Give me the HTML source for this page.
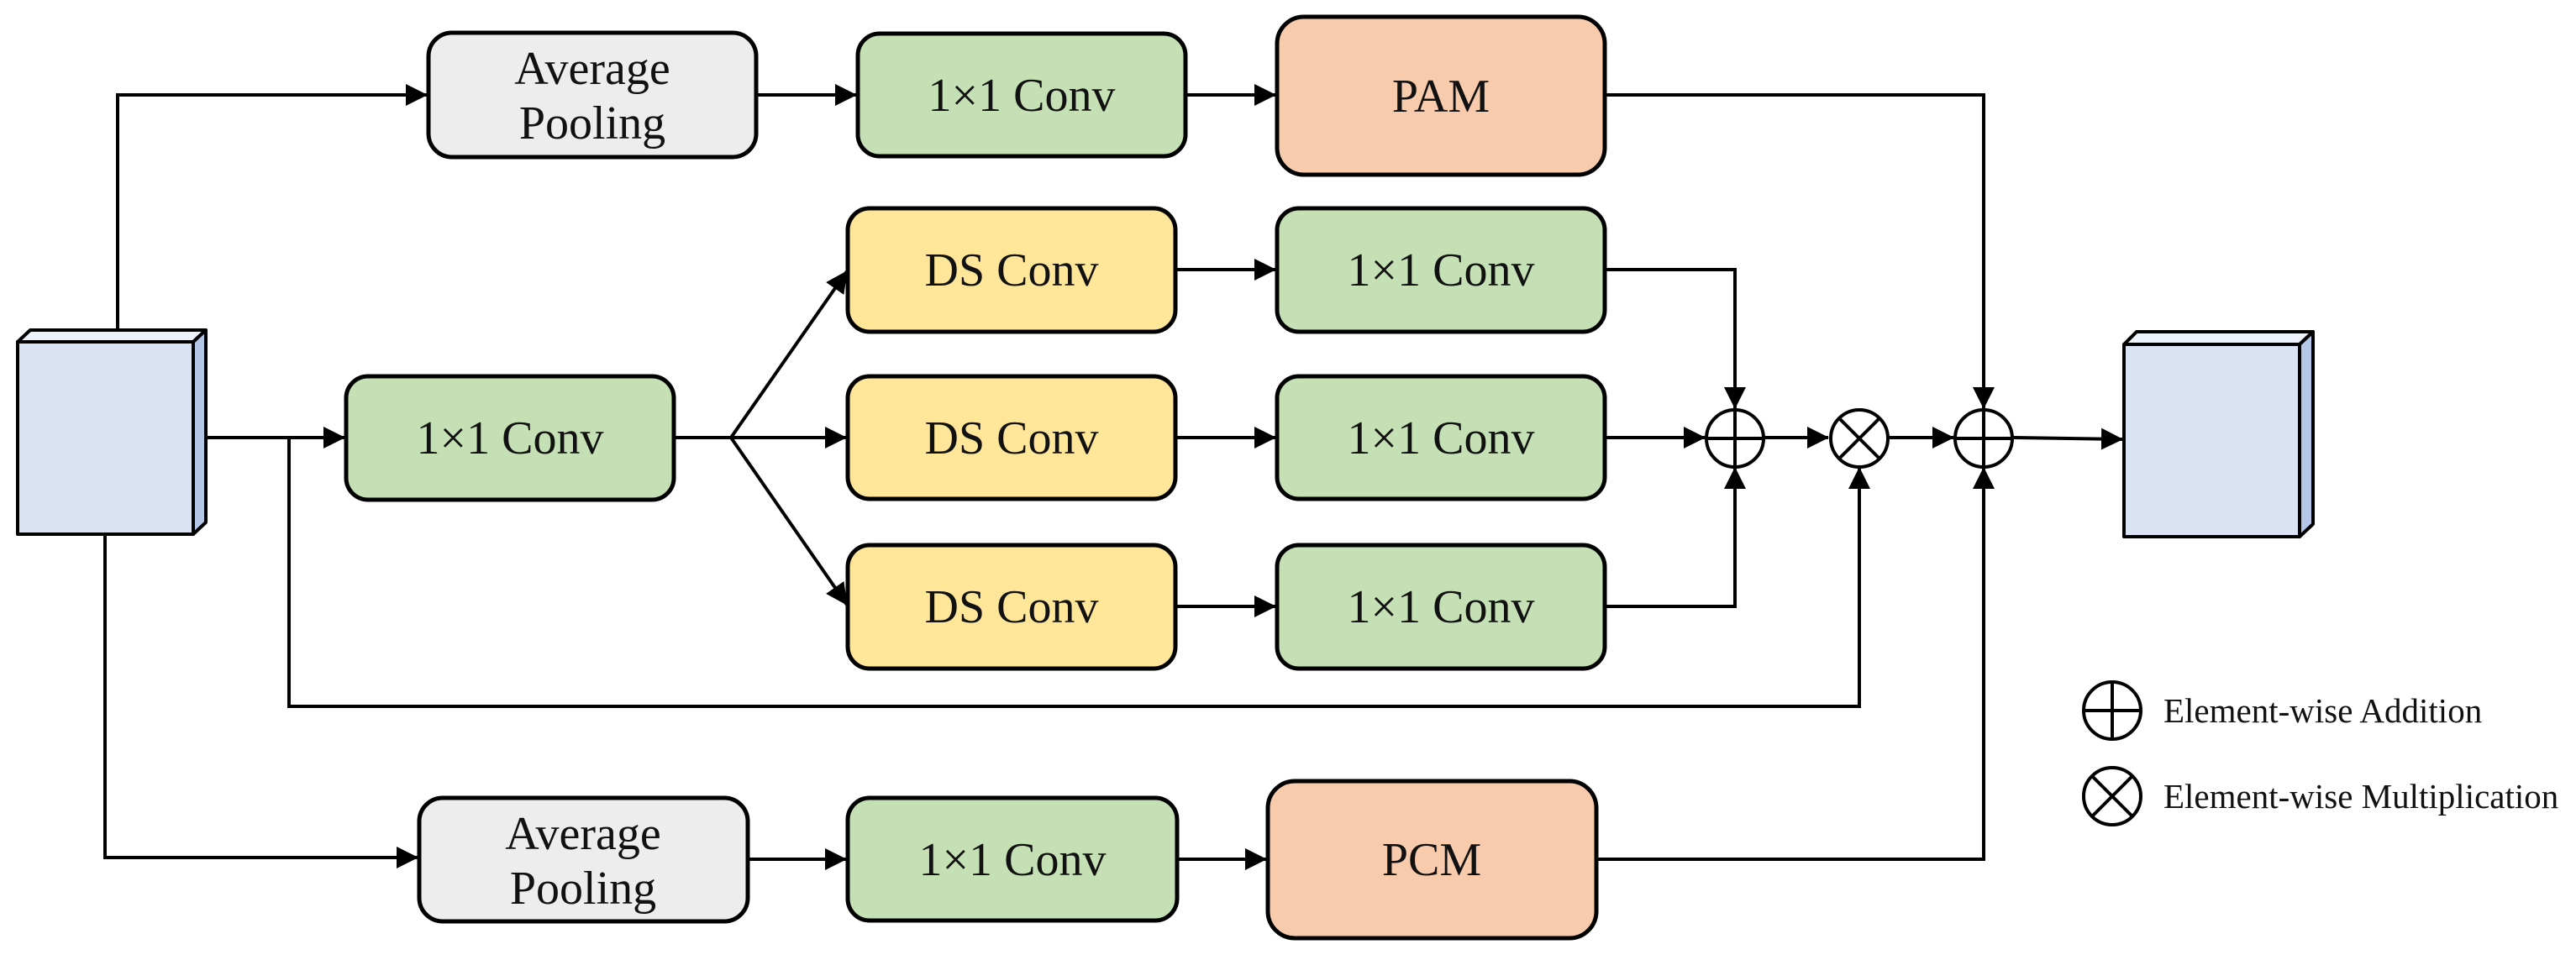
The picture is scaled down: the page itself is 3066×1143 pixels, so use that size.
<!DOCTYPE html>
<html><head><meta charset="utf-8"><style>
html,body{margin:0;padding:0;background:#fff;}
svg{display:block;}
text{font-family:"Liberation Serif","Times New Roman",Times,serif;fill:#111;}
</style></head><body>
<svg width="3066" height="1143" viewBox="0 0 3066 1143" xmlns="http://www.w3.org/2000/svg">
<defs>
<marker id="a" markerWidth="26" markerHeight="26" refX="25" refY="13" orient="auto" markerUnits="userSpaceOnUse">
<path d="M0,0 L26,13 L0,26 Z" fill="#000"/>
</marker>
</defs>
<g stroke="#000" stroke-width="4" fill="none">
<polyline points="140,393 140,113 508,113" marker-end="url(#a)"/>
<line x1="900" y1="113" x2="1019" y2="113" marker-end="url(#a)"/>
<line x1="1411" y1="113" x2="1518" y2="113" marker-end="url(#a)"/>
<polyline points="1910,113 2361,113 2361,486" marker-end="url(#a)"/>
<line x1="230" y1="521" x2="410" y2="521" marker-end="url(#a)"/>
<line x1="802" y1="521" x2="870" y2="521"/>
<line x1="870" y1="521" x2="1008" y2="323" marker-end="url(#a)"/>
<line x1="870" y1="521" x2="1007" y2="521" marker-end="url(#a)"/>
<line x1="870" y1="521" x2="1008" y2="720" marker-end="url(#a)"/>
<line x1="1399" y1="321" x2="1518" y2="321" marker-end="url(#a)"/>
<line x1="1399" y1="521" x2="1518" y2="521" marker-end="url(#a)"/>
<line x1="1399" y1="722" x2="1518" y2="722" marker-end="url(#a)"/>
<polyline points="1910,321 2065,321 2065,486" marker-end="url(#a)"/>
<line x1="1910" y1="521" x2="2029" y2="521" marker-end="url(#a)"/>
<polyline points="1910,722 2065,722 2065,557" marker-end="url(#a)"/>
<line x1="2100" y1="521" x2="2176" y2="521" marker-end="url(#a)"/>
<line x1="2248" y1="521" x2="2325" y2="521" marker-end="url(#a)"/>
<line x1="2396" y1="521" x2="2526" y2="523" marker-end="url(#a)"/>
<polyline points="344,521 344,841 2213,841 2213,557" marker-end="url(#a)"/>
<polyline points="125,636 125,1021 497,1021" marker-end="url(#a)"/>
<line x1="890" y1="1023" x2="1007" y2="1023" marker-end="url(#a)"/>
<line x1="1401" y1="1023" x2="1507" y2="1023" marker-end="url(#a)"/>
<polyline points="1900,1023 2361,1023 2361,557" marker-end="url(#a)"/>
</g>
<g stroke="#000" stroke-width="4" stroke-linejoin="round">
<polygon points="21,407 36,393 245,393 230,407" fill="#eef2fb"/>
<polygon points="230,407 245,393 245,622 230,636" fill="#b4c7e7"/>
<rect x="21" y="407" width="209" height="229" fill="#dae3f3"/>
<polygon points="2528,410 2543,395 2753,395 2737,410" fill="#eef2fb"/>
<polygon points="2737,410 2753,395 2753,624 2737,639" fill="#b4c7e7"/>
<rect x="2528" y="410" width="209" height="229" fill="#dae3f3"/>
</g>
<g stroke="#000" stroke-width="5">
<rect x="510" y="39" width="390" height="148" rx="28" fill="#ededed"/>
<rect x="1021" y="40" width="390" height="146" rx="26" fill="#c5e0b4"/>
<rect x="1520" y="20" width="390" height="188" rx="32" fill="#f8cbad"/>
<rect x="412" y="448" width="390" height="147" rx="26" fill="#c5e0b4"/>
<rect x="1009" y="248" width="390" height="147" rx="26" fill="#ffe699"/>
<rect x="1009" y="448" width="390" height="146" rx="26" fill="#ffe699"/>
<rect x="1009" y="649" width="390" height="147" rx="26" fill="#ffe699"/>
<rect x="1520" y="248" width="390" height="147" rx="26" fill="#c5e0b4"/>
<rect x="1520" y="448" width="390" height="146" rx="26" fill="#c5e0b4"/>
<rect x="1520" y="649" width="390" height="147" rx="26" fill="#c5e0b4"/>
<rect x="499" y="950" width="391" height="147" rx="28" fill="#ededed"/>
<rect x="1009" y="950" width="392" height="146" rx="26" fill="#c5e0b4"/>
<rect x="1509" y="930" width="391" height="187" rx="32" fill="#f8cbad"/>
</g>
<g stroke="#000" stroke-width="4" fill="#fff">
<circle cx="2065" cy="522" r="34"/><line x1="2031" y1="522" x2="2099" y2="522"/><line x1="2065" y1="488" x2="2065" y2="556"/>
<circle cx="2213" cy="522" r="34"/><line x1="2189" y1="498" x2="2237" y2="546"/><line x1="2237" y1="498" x2="2189" y2="546"/>
<circle cx="2361" cy="522" r="34"/><line x1="2327" y1="522" x2="2395" y2="522"/><line x1="2361" y1="488" x2="2361" y2="556"/>
<circle cx="2514" cy="846" r="34"/><line x1="2480" y1="846" x2="2548" y2="846"/><line x1="2514" y1="812" x2="2514" y2="880"/>
<circle cx="2514" cy="948" r="34"/><line x1="2490" y1="924" x2="2538" y2="972"/><line x1="2538" y1="924" x2="2490" y2="972"/>
</g>
<g font-size="56" text-anchor="middle">
<text x="705" y="100">Average</text>
<text x="705" y="165">Pooling</text>
<text x="1216" y="132">1×1 Conv</text>
<text x="1715" y="133">PAM</text>
<text x="607" y="540">1×1 Conv</text>
<text x="1204" y="340">DS Conv</text>
<text x="1204" y="540">DS Conv</text>
<text x="1204" y="741">DS Conv</text>
<text x="1715" y="340">1×1 Conv</text>
<text x="1715" y="540">1×1 Conv</text>
<text x="1715" y="741">1×1 Conv</text>
<text x="694" y="1011">Average</text>
<text x="694" y="1076">Pooling</text>
<text x="1205" y="1042">1×1 Conv</text>
<text x="1704" y="1042">PCM</text>
</g>
<g font-size="41">
<text x="2575" y="860">Element-wise Addition</text>
<text x="2575" y="962">Element-wise Multiplication</text>
</g>
</svg>
</body></html>
